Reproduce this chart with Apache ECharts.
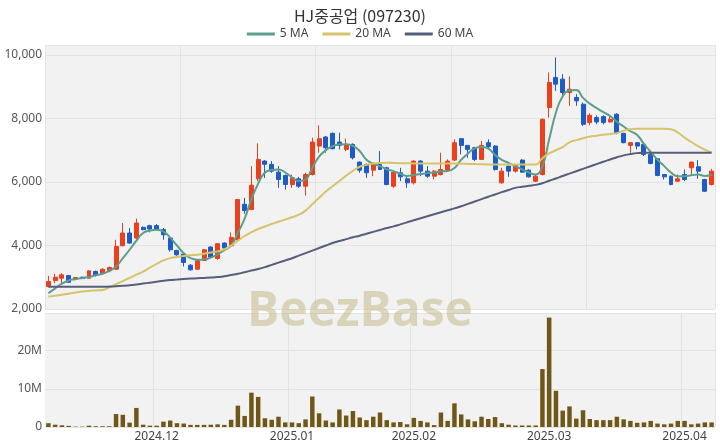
<!DOCTYPE html>
<html><head><meta charset="utf-8">
<script src="https://cdn.jsdelivr.net/npm/echarts@6/dist/echarts.min.js"></script>
<style>html,body{margin:0;padding:0;background:#fff}#c{width:720px;height:448px}</style>
</head><body><div id="c"></div>
<script>
// trading days by month
const daysNov = ['08','11','12','13','14','15','18','19','20','21','22','25','26','27','28','29'];
const daysDec = ['02','03','04','05','06','09','10','11','12','13','16','17','18','19','20','23','24','26','27','30'];
const daysJan = ['02','03','06','07','08','09','10','13','14','15','16','17','20','21','22','23','24','31'];
const daysFeb = ['03','04','05','06','07','10','11','12','13','14','17','18','19','20','21','24','25','26','27','28'];
const daysMar = ['04','05','06','07','10','11','12','13','14','17','18','19','20','21','24','25','26','27','28','31'];
const daysApr = ['01','02','03','04','07'];
const dates = [].concat(
  daysNov.map(d => '2024.11.' + d), daysDec.map(d => '2024.12.' + d),
  daysJan.map(d => '2025.01.' + d), daysFeb.map(d => '2025.02.' + d),
  daysMar.map(d => '2025.03.' + d), daysApr.map(d => '2025.04.' + d));

// OHLC
const open  = [2706,2896,2970,3054,2938,3001,2970,3181,3128,3202, 3254,3992,4393,4235,4572,4625,4625,4498,4235,3845,
               3729,3381,3254,3528,3950,3592,4077,3992,4182,5300, 5131,6100,6660,6554,6311,6206,5921,6100,5868,6237,
               7133,7418,7534,7260,7028,7186,6627,6554,6374,6554, 6448,5868,6290,6100,5974,6659,6343,6185,6237,6374,
               6690,7365,7154,7080,6712,7239,7133,5974,6501,6343, 6690,6374,6027,6237,8345,9294,9241,8820,8662,8451,
               7871,8029,8061,7892,8135,7534,7154,7239,7186,6870, 6733,6237,6185,6027,6237,6448,6480,6079,5921];
const close = [2865,3001,3075,2843,2991,2959,3202,3075,3254,3307, 3971,4393,4077,4709,4498,4519,4519,4340,3866,3708,
               3465,3233,3518,3866,3634,4056,3918,4256,5447,5100, 5900,6712,6560,6343,6079,5921,6132,5868,6237,7260,
               7365,7080,7049,7154,7186,6764,6374,6290,6554,6395, 5921,6311,6163,5974,6659,6343,6185,6343,6395,6659,
               7239,7154,7028,6712,7154,7112,6395,6343,6343,6522, 6311,6163,6185,7976,9136,9083,8820,8925,8556,7818,
               8103,7892,7871,7976,7555,7239,7239,7133,6870,6585, 6206,6163,5921,6100,6079,6627,6343,5710,6343];
const high  = [3044,3107,3128,3075,3010,3015,3220,3212,3286,3339, 4182,4709,4551,4846,4600,4656,4677,4551,4266,3866,
               3760,3413,3550,3890,3980,4080,4100,4414,5470,5500, 6501,7218,6690,6659,6501,6237,6237,6164,6290,7397,
               7787,7450,7555,7555,7365,7218,6650,6580,6580,6975, 6480,6330,6448,6185,6690,6690,6501,6374,6922,6712,
               7344,7380,7160,7112,7291,7344,7160,6448,6510,6540, 6720,6400,6230,7998,9452,9926,9399,9326,8767,8503,
               8166,8103,8103,8082,8166,7550,7250,7260,7218,6900, 6750,6250,6200,6237,6395,6640,6690,6100,6416];
const low   = [2685,2812,2759,2833,2920,2950,2960,3023,3096,3160, 3233,3971,4056,4182,4480,4414,4477,4182,3813,3676,
               3339,3212,3230,3510,3610,3550,3900,3970,4160,5000, 5131,6026,6130,6290,5816,5763,5816,5816,5573,6206,
               6922,6922,7028,7028,6975,6712,6290,6132,6185,6374, 5900,5816,6027,5816,5921,6185,6132,6079,6206,6343,
               6659,6870,6764,6659,6690,7028,6360,5953,6163,6300, 6290,6140,6000,6206,8029,8872,8714,8398,8398,7766,
               7787,7818,7818,7871,7502,7220,6922,7028,6817,6560, 6180,6079,5900,6000,6027,6206,6100,5690,5890];

// moving averages as drawn
const ma5  = [2496,2650,2800,2900,2940,2980,3010,3060,3110,3200, 3339,3600,3866,4150,4393,4470,4498,4440,4250,4000,
              3760,3600,3550,3560,3620,3720,3850,4000,4400,4850, 5450,5950,6300,6380,6395,6300,6150,6030,6080,6450,
              6800,7000,7133,7180,7186,7140,6975,6700,6580,6501, 6400,6343,6260,6190,6220,6250,6280,6300,6330,6343,
              6440,6700,6900,7060,7100,7050,6850,6700,6600,6500, 6400,6300,6237,6501,7344,8188,8700,8880,8900,8650,
              8470,8330,8200,8080,7900,7750,7600,7480,7200,6950, 6700,6500,6300,6185,6185,6210,6237,6190,6237];
const ma20 = [2390,2420,2450,2480,2520,2550,2570,2585,2600,2680, 2780,2880,2980,3080,3180,3300,3420,3530,3603,3640,
              3670,3690,3710,3740,3780,3815,3880,4000,4150,4300, 4420,4520,4600,4680,4750,4820,4890,4970,5100,5300,
              5500,5700,5868,6030,6200,6350,6480,6540,6580,6600, 6607,6600,6595,6590,6585,6585,6585,6585,6585,6585,
              6585,6575,6570,6565,6560,6555,6554,6554,6554,6554, 6554,6554,6554,6750,6900,7000,7100,7250,7320,7380,
              7430,7460,7490,7515,7540,7620,7665,7680,7681,7681, 7681,7681,7660,7560,7400,7260,7130,7020,6922];
const ma60 = [2700,2700,2700,2700,2700,2700,2700,2700,2700,2705, 2715,2730,2750,2770,2800,2830,2860,2890,2915,2930,
              2945,2958,2970,2980,2990,3005,3030,3070,3110,3160, 3210,3260,3320,3390,3460,3530,3600,3680,3760,3840,
              3920,4000,4077,4140,4200,4260,4310,4370,4430,4490, 4550,4603,4666,4730,4793,4856,4919,4982,5045,5108,
              5170,5235,5310,5385,5460,5535,5605,5680,5750,5816, 5850,5880,5910,5960,6040,6110,6190,6265,6340,6415,
              6490,6565,6640,6710,6780,6840,6880,6910,6922,6922, 6922,6922,6922,6922,6922,6922,6922,6922,6922];

// volume in millions
const volumeM = [1.0,0.6,0.45,0.3,0.1,0.1,0.35,0.2,0.2,0.2, 3.4,3.2,1.15,5.0,0.6,0.35,0.35,1.4,1.7,1.0,
                 0.9,0.55,0.55,0.55,0.6,0.7,0.55,1.9,5.6,2.9, 9.0,7.9,2.3,1.9,2.7,1.2,1.2,1.0,2.0,8.0,
                 3.6,1.7,1.2,4.6,3.0,4.2,2.5,1.8,2.7,3.8, 1.8,1.2,1.3,0.7,2.4,1.6,1.2,0.5,3.8,1.6,
                 6.2,3.3,2.0,1.5,2.7,2.1,2.6,1.0,0.6,0.4, 0.4,0.4,0.4,15.2,28.7,9.5,4.3,5.4,2.2,4.4,
                 2.1,1.8,1.8,1.8,2.7,2.0,1.6,1.1,1.2,1.6, 0.9,0.7,0.9,1.6,1.6,0.7,0.9,1.2,1.2];

const titleText = 'HJ중공업 (097230)';
const priceTicks = {min: 2000, max: 10316, step: 2000};
const volTicks = {min: 0, max: 29.9e6, step: 10e6};

const candleData = dates.map((d, i) => [open[i], close[i], low[i], high[i]]);
const volData = volumeM.map(v => v * 1e6);

const monthStart = (idx) => idx > 0 && dates[idx].slice(0, 7) !== dates[idx - 1].slice(0, 7);

const UP = '#ec3f1c', DOWN = '#1d5bc6';
const FONT = 'Noto Sans';
const chart = echarts.init(document.getElementById('c'), null, {renderer: 'canvas'});
chart.setOption({
  animation: false,
  backgroundColor: '#ffffff',
  title: {text: titleText, left: 'center', top: 3,
    textStyle: {fontFamily: 'Noto Sans CJK KR', fontSize: 16, fontWeight: 'normal', color: '#333'}},
  legend: {top: 23, left: 'center', itemWidth: 28, itemHeight: 3, itemGap: 14, icon: 'rect',
    textStyle: {fontFamily: FONT, fontSize: 12, color: '#444'},
    data: ['5 MA', '20 MA', '60 MA']},
  grid: [
    {left: 45, right: 5, top: 45, height: 264, show: true, backgroundColor: '#f2f2f2', borderWidth: 0},
    {left: 45, right: 5, top: 313, height: 114, show: true, backgroundColor: '#f2f2f2', borderWidth: 0}
  ],
  xAxis: [
    {type: 'category', gridIndex: 0, data: dates, boundaryGap: true,
     axisLine: {show: false}, axisTick: {show: false}, axisLabel: {show: false},
     splitLine: {show: true, interval: 19, lineStyle: {color: '#e3e3e3', width: 1}}},
    {type: 'category', gridIndex: 1, data: dates, boundaryGap: true,
     axisLine: {show: false}, axisTick: {show: false},
     axisLabel: {interval: (i) => monthStart(i), formatter: (v) => v.slice(0, 7),
       fontFamily: FONT, fontSize: 12, color: '#444', margin: 4},
     splitLine: {show: true, interval: (i) => monthStart(i), lineStyle: {color: '#e3e3e3', width: 1}}}
  ],
  yAxis: [
    {type: 'value', gridIndex: 0, min: priceTicks.min, max: priceTicks.max, interval: priceTicks.step,
     axisLine: {show: false}, axisTick: {show: false},
     axisLabel: {showMaxLabel: false, fontFamily: FONT, fontSize: 12, color: '#555', margin: 3,
       formatter: (v) => v.toLocaleString('en-US')},
     splitLine: {lineStyle: {color: '#e3e3e3'}}},
    {type: 'value', gridIndex: 1, min: volTicks.min, max: volTicks.max, interval: volTicks.step,
     axisLine: {show: false}, axisTick: {show: false},
     axisLabel: {showMaxLabel: false, fontFamily: FONT, fontSize: 12, color: '#555', margin: 3,
       formatter: (v) => v === 0 ? '0' : (v / 1e6) + 'M'},
     splitLine: {lineStyle: {color: '#e3e3e3'}}}
  ],
  graphic: [{type: 'text', left: 'center', top: 288, z: 100, silent: true,
    style: {text: 'BeezBase', fontFamily: 'Open Sans', fontWeight: 'bold', fontSize: 48,
      fill: 'rgba(196,186,140,0.55)'}}],
  series: [
    {type: 'candlestick', name: 'price', xAxisIndex: 0, yAxisIndex: 0, data: candleData,
     barWidth: '66%',
     itemStyle: {color: UP, color0: DOWN, borderColor: UP, borderColor0: DOWN, borderWidth: 1}},
    {type: 'line', name: '5 MA', xAxisIndex: 0, yAxisIndex: 0, data: ma5, smooth: true, showSymbol: false,
     lineStyle: {width: 2, color: '#5c9e8b'}, itemStyle: {color: '#5c9e8b'}},
    {type: 'line', name: '20 MA', xAxisIndex: 0, yAxisIndex: 0, data: ma20, smooth: true, showSymbol: false,
     lineStyle: {width: 2, color: '#d5c46c'}, itemStyle: {color: '#d5c46c'}},
    {type: 'line', name: '60 MA', xAxisIndex: 0, yAxisIndex: 0, data: ma60, smooth: true, showSymbol: false,
     lineStyle: {width: 2, color: '#575e7a'}, itemStyle: {color: '#575e7a'}},
    {type: 'bar', name: 'volume', xAxisIndex: 1, yAxisIndex: 1, data: volData, barWidth: '66%',
     itemStyle: {color: '#6e5717'}}
  ]
});
</script>
</body></html>
